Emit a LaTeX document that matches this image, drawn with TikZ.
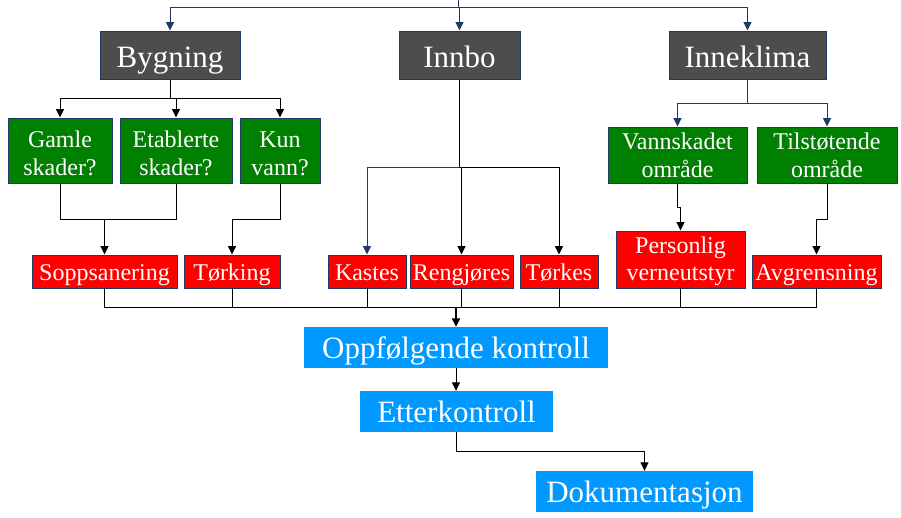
\documentclass[tikz,border=0pt]{standalone}
\usepackage{fontspec}
\setmainfont{Liberation Serif}
\usetikzlibrary{arrows.meta}
\definecolor{boxgray}{RGB}{77,77,77}
\definecolor{boxgreen}{RGB}{0,128,0}
\definecolor{boxred}{RGB}{255,0,0}
\definecolor{boxblue}{RGB}{0,153,255}
\definecolor{navy}{RGB}{31,56,100}
\tikzset{
  base/.style={rectangle, inner sep=0pt, text=white, align=center},
  graybox/.style={base, fill=boxgray, draw=navy, line width=1pt, font=\fontsize{31}{34}\selectfont, minimum height=48pt, text height=24pt, text depth=0pt},
  greenbox/.style={base, fill=boxgreen, draw=navy, line width=1pt, font=\fontsize{24}{28}\selectfont, text depth=0pt},
  redbox/.style={base, fill=boxred, draw=navy, line width=1pt, font=\fontsize{24}{27}\selectfont},
  redone/.style={redbox, minimum height=33pt, text height=17pt, text depth=0pt},
  bluebox/.style={base, fill=boxblue, font=\fontsize{31}{34}\selectfont, minimum height=41pt, text height=21pt, text depth=0pt},
  conn/.style={line width=1pt, black},
  nconn/.style={line width=1pt, navy},
  arr/.style={-{Triangle[length=8.5pt,width=8pt]}},
}
\begin{document}
\begin{tikzpicture}[x=1pt,y=-1pt]
\useasboundingbox (0,0) rectangle (901,517);
% top level
\node[graybox, minimum width=140pt] (byg) at (170,55) {Bygning};
\node[graybox, minimum width=121pt] (innbo) at (459.5,55) {Innbo};
\node[graybox, minimum width=157pt] (innek) at (747.5,55) {Inneklima};
% green
\node[greenbox, minimum width=104pt, minimum height=65pt, text height=49pt] (gamle) at (60,150.5) {Gamle\\skader?};
\node[greenbox, minimum width=112pt, minimum height=65pt, text height=49pt] (etab) at (176,150.5) {Etablerte\\skader?};
\node[greenbox, minimum width=80pt, minimum height=65pt, text height=49pt] (kun) at (280,150.5) {Kun\\vann?};
\node[greenbox, minimum width=139pt, minimum height=56pt, text height=44pt] (vann) at (677.5,155) {Vannskadet\\område};
\node[greenbox, minimum width=140pt, minimum height=56pt, text height=44pt] (tils) at (827,155) {Tilstøtende\\område};
% red
\node[redone, minimum width=145pt] (sopp) at (104.5,271.5) {Soppsanering};
\node[redone, minimum width=96pt] (tork) at (232,271.5) {Tørking};
\node[redone, minimum width=78pt] (kast) at (367,271.5) {Kastes};
\node[redone, minimum width=103pt] (reng) at (461.5,271.5) {Rengjøres};
\node[redone, minimum width=78pt] (torkes) at (559,271.5) {Tørkes};
\node[redbox, minimum width=129pt, minimum height=57pt, text height=41pt, text depth=0pt] (pers) at (680.5,259.5) {Personlig\\verneutstyr};
\node[redone, minimum width=129pt] (avgr) at (816.5,271.5) {Avgrensning};
% blue
\node[bluebox, minimum width=304pt] (oppf) at (456,347.5) {Oppfølgende kontroll};
\node[bluebox, minimum width=193pt] (etter) at (456.5,411.5) {Etterkontroll};
\node[bluebox, minimum width=217pt] (dok) at (644.5,491.5) {Dokumentasjon};
% top connectors
\coordinate (top) at (458,0);
\coordinate (tj) at (458,7);
\draw[nconn] (top) -- (tj);
\draw[nconn,arr] (tj) -| (byg.north);
\draw[nconn,arr] (tj) -| (innbo.north);
\draw[nconn,arr] (tj) -| (innek.north);
% Bygning children
\draw[conn,arr] (byg.south) -- ++(0,19) -| (gamle.north);
\draw[conn,arr] (byg.south) -- ++(0,19) -| (etab.north);
\draw[conn,arr] (byg.south) -- ++(0,19) -| (kun.north);
% Inneklima children
\draw[nconn,arr] (innek.south) -- ++(0,24) -| (vann.north);
\draw[nconn,arr] (innek.south) -- ++(0,24) -| (tils.north);
% Innbo children
\draw[conn] (innbo.south) -- (459.5,167);
\draw[nconn,arr] (459.5,167) -| (kast.north);
\draw[conn,arr] (459.5,167) -| (reng.north);
\draw[conn,arr] (459.5,167) -| (torkes.north);
% green to red
\draw[conn] (gamle.south) |- (104.5,219);
\draw[conn] (etab.south) |- (104.5,219);
\draw[conn,arr] (104.5,219) -- (sopp.north);
\draw[conn,arr] (kun.south) |- (232,219) -- (tork.north);
\draw[conn,arr] (vann.south) |- (680.5,207) -- (pers.north);
\draw[conn,arr] (tils.south) |- (816.5,219) -- (avgr.north);
% red to blue
\coordinate (bj) at (456,307);
\foreach \n in {sopp,tork,kast,reng,torkes,pers,avgr}
  \draw[conn] (\n.south) |- (bj);
\draw[conn,arr,line width=1.8pt] (bj) -- (oppf.north);
\draw[conn,arr] (oppf.south) -- (etter.north -| oppf.south);
\draw[conn,arr] (etter.south) |- (644.5,451) -- (dok.north);
\end{tikzpicture}
\end{document}
